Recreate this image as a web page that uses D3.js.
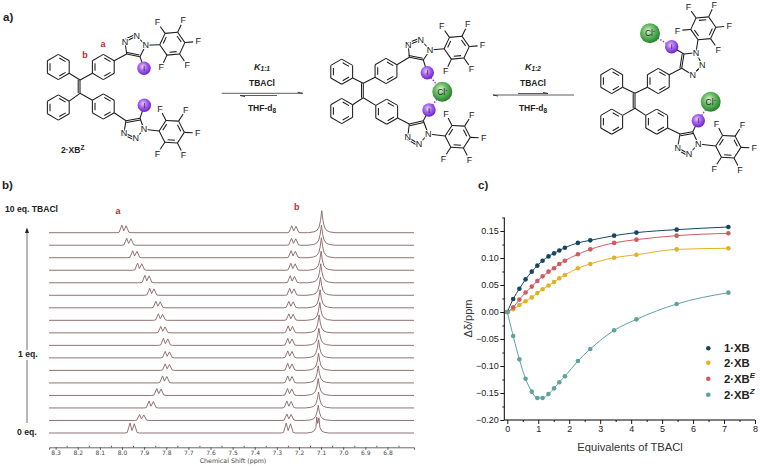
<!DOCTYPE html>
<html>
<head>
<meta charset="utf-8">
<script src="https://cdn.jsdelivr.net/npm/d3@7"></script>
<style>
  html, body { margin: 0; background: #fff; }
  text { font-family: "Liberation Sans", Arial, sans-serif; fill: #222; }
</style>
</head>
<body>
<div id="chart"></div>
<script>
// ---------- data: titration curves (panel c)
const equivalents = [0, 0.19, 0.39, 0.59, 0.79, 0.97, 1.14, 1.33, 1.51, 1.68, 1.86, 2.28, 2.68, 3.45, 4.17, 5.47, 7.14];
const seriesOne = [0, 0.024, 0.043, 0.0605, 0.0747, 0.0858, 0.095, 0.103, 0.1086, 0.114, 0.119, 0.128, 0.1327, 0.1414, 0.147, 0.1525, 0.1574];
const seriesTwo = [0, 0.005, 0.013, 0.02, 0.027, 0.035, 0.042, 0.049, 0.0556, 0.0623, 0.0685, 0.081, 0.089, 0.1006, 0.106, 0.116, 0.118];
const seriesE = [0, 0.0086, 0.023, 0.036, 0.047, 0.0574, 0.066, 0.0747, 0.081, 0.089, 0.095, 0.107, 0.116, 0.128, 0.134, 0.1414, 0.1457];
const seriesZ = [0, -0.0444, -0.0877, -0.1235, -0.1475, -0.1593, -0.1593, -0.152, -0.1414, -0.13, -0.119, -0.0907, -0.0685, -0.034, -0.0136, 0.0148, 0.0358];
const curveTicksX = [0, 1, 2, 3, 4, 5, 6, 7, 8];
const curveTicksY = [-0.20, -0.15, -0.10, -0.05, 0, 0.05, 0.10, 0.15];

// ---------- data: NMR stack (panel b), top trace (10 eq.) first
const peakA = [7.991, 7.969, 7.942, 7.92, 7.887, 7.865, 7.837, 7.826, 7.815, 7.803, 7.795, 7.795, 7.807, 7.833, 7.868, 7.911, 7.954];
const peakAHeight = [7.5, 7, 7, 7, 7.5, 7, 6.5, 6.5, 6.5, 7, 6.5, 6.5, 7, 7, 7, 6, 10];
const peakB = [7.223, 7.224, 7.226, 7.227, 7.23, 7.232, 7.236, 7.236, 7.239, 7.241, 7.241, 7.241, 7.241, 7.242, 7.245, 7.245, 7.248];
const peakBHeight = [7, 7, 7, 7, 7, 7, 6.5, 6.5, 7, 7, 7, 7, 7, 7, 7, 6.5, 10];
const peakC = [7.097, 7.0985, 7.0985, 7.1, 7.1015, 7.103, 7.1045, 7.106, 7.109, 7.11, 7.1115, 7.1115, 7.113, 7.113, 7.1115, 7.113, 7.1145];
const peakCHeight = [22, 20, 20, 19, 19, 18, 18, 18, 18, 17, 18, 17, 17, 17, 16, 15, 16];
const ppmTicks = [8.3, 8.2, 8.1, 8.0, 7.9, 7.8, 7.7, 7.6, 7.5, 7.4, 7.3, 7.2, 7.1, 7.0, 6.9, 6.8];
const ppmRange = [8.33, 6.68];
// outline of one signal: offset from centre in ppm / fraction of height
const doubletOffset = [0.032, 0.022, 0.0097, 0.001, -0.0097, -0.022, -0.032];
const doubletLevel = [0, 0.06, 1, 0.25, 0.92, 0.06, 0];
const singletOffset = [0.06, 0.035, 0.022, 0.012, 0.0055, 0.002, 0, -0.002, -0.0055, -0.012, -0.022, -0.035, -0.06];
const singletLevel = [0, 0.04, 0.1, 0.26, 0.55, 0.85, 1, 0.85, 0.55, 0.26, 0.1, 0.04, 0];
const splitOffset = [0.05, 0.03, 0.018, 0.009, 0.005, 0.001, -0.005, -0.009, -0.018, -0.03, -0.05];
const splitLevel = [0, 0.04, 0.12, 0.35, 1, 0.6, 0.95, 0.35, 0.12, 0.04, 0];

const width = 760, height = 467;
const svg = d3.select("#chart").append("svg")
  .attr("width", width)
  .attr("height", height)
  .style("display", "block");

const defs = svg.append("defs");
const sphere = (id, inner, mid, outer) => {
  const g = defs.append("radialGradient").attr("id", id).attr("cx", "42%").attr("cy", "38%").attr("r", "62%");
  g.append("stop").attr("offset", "0%").attr("stop-color", inner);
  g.append("stop").attr("offset", "50%").attr("stop-color", mid);
  g.append("stop").attr("offset", "100%").attr("stop-color", outer);
};
sphere("iodine", "#e6d2ff", "#a55fee", "#6f22c8");
sphere("chloride", "#dff3da", "#62b85f", "#24802c");

const label = (g, x, y, size, weight, anchor = "middle") => g.append("text")
  .attr("x", x).attr("y", y)
  .attr("font-size", size)
  .attr("font-weight", weight)
  .attr("text-anchor", anchor)
  .attr("dominant-baseline", "central");

// small helper for text with a raised or lowered part
const shifted = (t, text, dy, size, style) => {
  const s = t.append("tspan").attr("dy", dy).attr("font-size", size).text(text);
  if (style) s.attr("font-style", style);
  return s;
};

// ---------- panel letters
label(svg, 3, 17, 11.5, "bold", "start").text("a)");
label(svg, 2, 185, 11.5, "bold", "start").text("b)");
label(svg, 478, 185, 11.5, "bold", "start").text("c)");

// ---------- panel a: molecules
const mol = svg.append("g").attr("class", "structures");
const ink = "#1c1c1c";
const bond = (a, b, w = 1.05) => mol.append("line")
  .attr("x1", a[0]).attr("y1", a[1]).attr("x2", b[0]).attr("y2", b[1])
  .attr("stroke", ink).attr("stroke-width", w);
const polar = (c, r, deg) => [c[0] + r * Math.cos(deg * Math.PI / 180), c[1] + r * Math.sin(deg * Math.PI / 180)];

const RING = 12.6;
const ring = (c, rot) => {
  const v = d3.range(6).map(k => polar(c, RING, rot + k * 60));
  const w = d3.range(6).map(k => polar(c, RING * 0.76, rot + k * 60));
  v.forEach((p, k) => bond(p, v[(k + 1) % 6]));
  [0, 2, 4].forEach(k => {
    const a = w[k], b = w[(k + 1) % 6];
    bond([a[0] + (b[0] - a[0]) * 0.12, a[1] + (b[1] - a[1]) * 0.12], [a[0] + (b[0] - a[0]) * 0.88, a[1] + (b[1] - a[1]) * 0.88]);
  });
  return v;
};
const atom = (p, s, size = 9) => label(mol, p[0], p[1], size, "normal")
  .attr("stroke", "#fff").attr("stroke-width", 2).attr("paint-order", "stroke").text(s);

const ball = (p, r, fill, t, size) => {
  mol.append("circle").attr("cx", p[0]).attr("cy", p[1]).attr("r", r).attr("fill", `url(#${fill})`);
  return label(mol, p[0], p[1], size, "normal").text(t);
};
const chloride = p => {
  const t = ball(p, 10, "chloride", "Cl", 8.5);
  shifted(t, "-", -3, 6.5);
};
const doubled = (a, b, dx, dy) => {
  bond(a, b);
  bond([a[0] + dx, a[1] + dy], [b[0] + dx, b[1] + dy]);
};

// one triazole + C6F5 arm, atoms given as placed in the figure
const arm = (from, a) => {
  bond(from, a.c4);
  doubled(a.c4, a.c5, a.dbl[0], a.dbl[1]);
  bond(a.c4, a.n3);
  doubled(a.n3, a.n2, a.dbl[2], a.dbl[3]);
  bond(a.n2, a.n1);
  bond(a.n1, a.c5);
  const verts = ring(a.pfp, a.rot);
  bond(a.n1, verts[0]);
  d3.range(1, 6).forEach(k => {
    bond(verts[k], polar(a.pfp, 21, a.rot + k * 60));
    atom(polar(a.pfp, 26, a.rot + k * 60), "F");
  });
  [a.n1, a.n2, a.n3].forEach(p => atom(p, "N"));
  bond(a.c5, a.iodine);
  ball(a.iodine, 6.7, "iodine", "I", 8);
};

const molecule = m => {
  const lu = ring(m.rings[0], 30), ld = ring(m.rings[1], 30), ru = ring(m.rings[2], 30), rd = ring(m.rings[3], 30);
  doubled(m.c1, m.c2, -1.8, 0);
  bond(m.c1, lu[0]); bond(m.c1, ru[2]);
  bond(m.c2, ld[5]); bond(m.c2, rd[3]);
  arm(ru[5], m.up);
  arm(rd[0], m.down);
};

const structures = [
  { c1: [80, 80], c2: [80, 93.3], rings: [[58.3, 67], [58.3, 107.5], [103.3, 67], [103.3, 106.5]],
    up: { c4: [126.7, 54], c5: [140, 56.7], n1: [145.7, 45.3], n2: [136.7, 36], n3: [125, 41.7], iodine: [144, 68.3], pfp: [172.3, 43.7], rot: 175, dbl: [-0.6, -1.8, -1.2, -1.8] },
    down: { c4: [126, 120.7], c5: [140, 118.3], n1: [144, 129.3], n2: [135.7, 138.3], n3: [124, 132.7], iodine: [144.3, 105.3], pfp: [171.7, 131.7], rot: 183, dbl: [0.4, 1.8, -1, 1.8] } },
  { c1: [363.3, 83.3], c2: [363.3, 97.7], rings: [[341.7, 71.7], [341.7, 111], [386, 71], [386.7, 111.7]],
    up: { c4: [409.3, 57.3], c5: [423.3, 60], n1: [430, 50], n2: [420.7, 40], n3: [408.3, 45], iodine: [427.3, 72.7], pfp: [456.7, 47.7], rot: 175, dbl: [-0.6, -1.8, -1.2, -1.8] },
    down: { c4: [409.3, 124], c5: [423.3, 120.7], n1: [428.3, 134], n2: [419, 144], n3: [407.7, 137.3], iodine: [429, 110], pfp: [457.7, 136.7], rot: 183, dbl: [0.4, 1.8, -1, 1.8] } },
  { c1: [635, 93.3], c2: [635, 108.3], rings: [[611.7, 81], [611.7, 121.7], [658.3, 81], [656.7, 121.7]],
    up: { c4: [681.7, 68.3], c5: [684, 54], n1: [696, 52.7], n2: [702.3, 65], n3: [692.7, 75], iodine: [671.7, 46.7], pfp: [703.3, 28.3], rot: 115, dbl: [-1.8, 0, -1.4, 1.4] },
    down: { c4: [680, 134], c5: [692.7, 131.7], n1: [698.3, 144], n2: [689, 154], n3: [677.7, 147.7], iodine: [698.3, 120.7], pfp: [728.3, 146.7], rot: 183, dbl: [0.4, 1.8, -1, 1.8] } }
];

// dotted halogen bonds go under the spheres
const halogen = (a, b) => mol.append("line")
  .attr("x1", a[0]).attr("y1", a[1]).attr("x2", b[0]).attr("y2", b[1])
  .attr("stroke", "#8a3fd8").attr("stroke-width", 1.4).attr("stroke-dasharray", "1.5 1.5");
halogen(structures[1].up.iodine, [442.3, 91.7]);
halogen(structures[1].down.iodine, [442.3, 91.7]);
halogen(structures[2].up.iodine, [650, 33.3]);
halogen(structures[2].down.iodine, [710.7, 101.7]);
structures.forEach(molecule);
chloride([442.3, 91.7]);
chloride([650, 33.3]);
chloride([710.7, 101.7]);

label(svg, 103, 43.5, 9, "bold").style("fill", "#c3272b").text("a");
label(svg, 85, 54.5, 9, "bold").style("fill", "#c3272b").text("b");
const xbName = label(svg, 61, 150, 8.5, "bold", "start");
xbName.append("tspan").text("2·XB");
shifted(xbName, "Z", -3, 6.5);

// equilibrium arrows and conditions
const halfArrow = (x1, x2, y, dir) => {
  const g = svg.append("g");
  g.append("line").attr("x1", x1).attr("x2", x2).attr("y1", y).attr("y2", y).attr("stroke", "#333").attr("stroke-width", 0.8);
  const tip = dir > 0 ? x2 : x1;
  const side = dir > 0 ? -1 : 1; // barb sits on the outer side of the pair
  g.append("path").attr("d", `M${tip},${y} l${-dir * 5},${side}`).attr("stroke", "#333").attr("stroke-width", 1).attr("fill", "none");
};
halfArrow(221.7, 302.7, 93.3, 1);
halfArrow(240, 277, 95.5, -1);
halfArrow(493, 574, 95, -1);
halfArrow(518, 548, 93.5, 1);

const conditions = (cx, k) => {
  const t = label(svg, cx, 66.7, 9, "normal").attr("font-style", "italic").attr("font-weight", "bold");
  t.append("tspan").text("K");
  shifted(t, k, 1.5, 6.5);
  label(svg, cx, 83.3, 8.5, "bold").text("TBACl");
  const d = label(svg, cx, 108, 8.5, "bold");
  d.append("tspan").text("THF-d");
  shifted(d, "8", 1.5, 6.5);
};
conditions(262, "1:1");
conditions(533, "1:2");

// ---------- panel b: stacked NMR
const xPpm = d3.scaleLinear().domain(ppmRange).range([49, 414]);
const baseline = d3.scalePoint().domain(d3.range(peakA.length)).range([232.7, 433]);

const axisPpm = d3.axisBottom(xPpm).tickValues(ppmTicks).tickFormat(d3.format(".1f")).tickSize(2.5);
const gPpm = svg.append("g").attr("transform", "translate(0,447.3)").call(axisPpm);
gPpm.select(".domain").attr("stroke", "#444").attr("stroke-width", 0.8);
gPpm.selectAll(".tick line").attr("stroke", "#444");
gPpm.selectAll("text").attr("font-size", 6).style("font-family", "'DejaVu Sans'").style("fill", "#444").attr("y", 3.5);
svg.append("g").attr("transform", "translate(0,447.3)")
  .call(d3.axisTop(xPpm).tickValues(ppmTicks.map(d => d - 0.05)).tickSize(1.5).tickFormat(""))
  .call(g => g.select(".domain").remove())
  .selectAll("line").attr("stroke", "#444");
label(svg, 233, 460.7, 6.3, "normal").style("font-family", "'DejaVu Sans'").style("fill", "#444").text("Chemical Shift (ppm)");

const traceLine = d3.line().x(d => xPpm(d.ppm)).y(d => d.y);
const peakPoints = (centre, offsets, levels, tall, base) => offsets.map((o, k) => ({ ppm: centre + o, y: base - levels[k] * tall }));

const traces = d3.range(peakA.length).map(i => {
  const base = baseline(i);
  const last = i === peakA.length - 1;
  return [
    { ppm: ppmRange[0], y: base },
    ...peakPoints(peakA[i], doubletOffset, doubletLevel, peakAHeight[i], base),
    ...peakPoints(peakB[i], doubletOffset, doubletLevel, peakBHeight[i], base),
    ...peakPoints(peakC[i], last ? splitOffset : singletOffset, last ? splitLevel : singletLevel, peakCHeight[i], base),
    { ppm: ppmRange[1], y: base }
  ];
});

svg.append("g").selectAll("path")
  .data(traces)
  .enter()
  .append("path")
  .attr("d", traceLine)
  .attr("fill", "none")
  .attr("stroke", "#836464")
  .attr("stroke-width", 0.9);

label(svg, 5, 209.3, 8.6, "bold", "start").text("10 eq. TBACl");
label(svg, 18, 354, 8.6, "bold", "start").text("1 eq.");
label(svg, 17, 431.7, 8.6, "bold", "start").text("0  eq.");
label(svg, 118, 211, 9, "bold").style("fill", "#c3272b").text("a");
label(svg, 296.7, 206.7, 9, "bold").style("fill", "#c3272b").text("b");

const arrowColor = "#6e6e6e";
svg.append("line").attr("x1", 27).attr("x2", 27).attr("y1", 350).attr("y2", 232).attr("stroke", arrowColor).attr("stroke-width", 1);
svg.append("line").attr("x1", 27).attr("x2", 27).attr("y1", 423).attr("y2", 360).attr("stroke", arrowColor).attr("stroke-width", 1);
svg.append("path").attr("d", "M27,227.5l-2,5.5h4z").attr("fill", "#222");

// ---------- panel c: titration curves
const xEq = d3.scaleLinear().domain([0, 8]).range([507.3, 755]);
const yShift = d3.scaleLinear().domain([-0.20, 0.15]).range([420, 231]);
const axisX0 = 504.3, axisY0 = 420;

const gx = svg.append("g").attr("transform", `translate(0,${axisY0})`)
  .call(d3.axisBottom(xEq).tickValues(curveTicksX).tickFormat(d3.format("d")).tickSize(4).tickSizeOuter(0));
gx.select(".domain").attr("d", `M${axisX0},0H755`);
gx.selectAll("text").attr("font-size", 9).attr("y", 6);
svg.append("g").attr("transform", `translate(0,${axisY0})`)
  .call(d3.axisBottom(xEq).tickValues(curveTicksX.slice(1).map(d => d - 0.5)).tickSize(2).tickFormat(""))
  .call(g => g.select(".domain").remove());

const gy = svg.append("g").attr("transform", `translate(${axisX0},0)`)
  .call(d3.axisLeft(yShift).tickValues(curveTicksY).tickFormat(d3.format(".2f")).tickSize(4).tickSizeOuter(0));
gy.select(".domain").attr("d", `M0,${axisY0}V${yShift(0.175)}`);
gy.selectAll("text").attr("font-size", 9).attr("x", -5.5);
svg.append("g").attr("transform", `translate(${axisX0},0)`)
  .call(d3.axisLeft(yShift).tickValues(curveTicksY.map(d => d + 0.025)).tickSize(2).tickFormat(""))
  .call(g => g.select(".domain").remove());
svg.selectAll("g.tick line").attr("stroke-width", 0.9);

label(svg, 630, 446.7, 11.2, "normal").style("fill", "#333").text("Equivalents of TBACl");
label(svg, 0, 0, 11, "normal").style("fill", "#333")
  .attr("transform", "translate(468,318.5) rotate(-90)").text("Δδ/ppm");

const curveLine = d3.line()
  .x((d, i) => xEq(equivalents[i]))
  .y(d => yShift(d))
  .curve(d3.curveMonotoneX);

const drawSeries = (values, color) => {
  const g = svg.append("g");
  g.append("path").datum(values)
    .attr("d", curveLine)
    .attr("fill", "none")
    .attr("stroke", color)
    .attr("stroke-width", 1);
  g.selectAll("circle")
    .data(values)
    .enter()
    .append("circle")
    .attr("cx", (d, i) => xEq(equivalents[i]))
    .attr("cy", d => yShift(d))
    .attr("r", 2.3)
    .attr("fill", color);
};
const colorOne = "#174660", colorTwo = "#e2b223", colorE = "#cf5b60", colorZ = "#5fa3a0";
drawSeries(seriesOne, colorOne);
drawSeries(seriesTwo, colorTwo);
drawSeries(seriesE, colorE);
drawSeries(seriesZ, colorZ);

// legend
const legend = [
  { name: "1·XB", sup: "", color: colorOne, y: 348.3 },
  { name: "2·XB", sup: "", color: colorTwo, y: 362.7 },
  { name: "2·XB", sup: "E", color: colorE, y: 378.7 },
  { name: "2·XB", sup: "Z", color: colorZ, y: 394.7 }
];
legend.forEach(d => {
  svg.append("circle").attr("cx", 708.3).attr("cy", d.y).attr("r", 2.3).attr("fill", d.color);
  const t = label(svg, 724, d.y, 11.3, "bold", "start");
  t.append("tspan").text(d.name);
  if (d.sup) shifted(t, d.sup, -3.5, 8, "italic");
});
</script>
</body>
</html>
